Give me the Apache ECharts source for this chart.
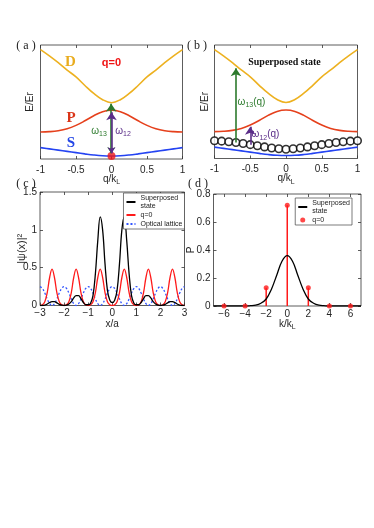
<!DOCTYPE html>
<html>
<head>
<meta charset="utf-8">
<script src="https://cdn.jsdelivr.net/npm/echarts@6/dist/echarts.min.js"></script>
<style>
html,body{margin:0;padding:0;background:#fff;}
#main{width:374px;height:528px;}
</style>
</head>
<body>
<div id="main"></div>
<script>
// ---- (a)/(b) band structure, E in Er (offset), q in kL
var qBand = [-1,-0.875,-0.75,-0.625,-0.5,-0.375,-0.25,-0.125,0,0.125,0.25,0.375,0.5,0.625,0.75,0.875,1];
var bandD = [9.6,9.05,8.45,7.8,7.2,6.45,5.75,5.2,4.94,5.2,5.75,6.45,7.2,7.8,8.45,9.05,9.6];
var bandP = [2.37,2.4,2.48,2.65,2.95,3.35,3.8,4.15,4.27,4.15,3.8,3.35,2.95,2.65,2.48,2.4,2.37];
var bandS = [1.0,0.89,0.78,0.67,0.56,0.45,0.35,0.28,0.26,0.28,0.35,0.45,0.56,0.67,0.78,0.89,1.0];
var qDots = [-1,-0.9,-0.8,-0.7,-0.6,-0.5,-0.4,-0.3,-0.2,-0.1,0,0.1,0.2,0.3,0.4,0.5,0.6,0.7,0.8,0.9,1];
var superE = [1.57,1.53,1.48,1.41,1.32,1.22,1.12,1.02,0.93,0.86,0.82,0.86,0.93,1.02,1.12,1.22,1.32,1.41,1.48,1.53,1.57];
var q0Point = [0, 0.26];
// arrows: [q, from, to]
var arrowA13 = [-0.004, 0.5, 4.85];
var arrowA12 = [0, 0.5, 4.1];
var arrowB13 = [-0.7, 1.41, 7.95];
var arrowB12 = [-0.5, 1.22, 2.8];

// ---- (c) density in real space
var xs = [-3,-2.9,-2.8,-2.7,-2.6,-2.5,-2.4,-2.3,-2.2,-2.1,-2,-1.9,-1.8,-1.7,-1.6,-1.5,-1.4,-1.3,-1.2,-1.1,
  -1,-0.9,-0.8,-0.7,-0.6,-0.5,-0.4,-0.3,-0.2,-0.1,0,0.1,0.2,0.3,0.4,0.5,0.6,0.7,0.8,0.9,
  1,1.1,1.2,1.3,1.4,1.5,1.6,1.7,1.8,1.9,2,2.1,2.2,2.3,2.4,2.5,2.6,2.7,2.8,2.9,3];
var densSuper = [0,0,0.005,0.02,0.04,0.05,0.05,0.035,0.015,0.005,
  0,0.005,0.02,0.05,0.1,0.13,0.13,0.09,0.04,0.01,
  0.01,0.03,0.13,0.42,0.86,1.17,1.0,0.55,0.2,0.07,
  0.04,
  0.07,0.2,0.55,1.0,1.17,0.86,0.42,0.13,0.03,0.01,
  0.01,0.04,0.09,0.13,0.13,0.1,0.05,0.02,0.005,0,
  0.005,0.015,0.035,0.05,0.05,0.04,0.02,0.005,0,0];
var densQ0 = [0,0.01,0.05,0.17,0.37,0.48,0.37,0.17,0.05,0.01,
  0,0.01,0.05,0.17,0.37,0.48,0.37,0.17,0.05,0.01,
  0,0.01,0.05,0.17,0.37,0.48,0.37,0.17,0.05,0.01,
  0,0.01,0.05,0.17,0.37,0.48,0.37,0.17,0.05,0.01,
  0,0.01,0.05,0.17,0.37,0.48,0.37,0.17,0.05,0.01,
  0,0.01,0.05,0.17,0.37,0.48,0.37,0.17,0.05,0.01,
  0];
var lattice = [0.25,0.226,0.164,0.086,0.024,0,0.024,0.086,0.164,0.226,
  0.25,0.226,0.164,0.086,0.024,0,0.024,0.086,0.164,0.226,
  0.25,0.226,0.164,0.086,0.024,0,0.024,0.086,0.164,0.226,
  0.25,0.226,0.164,0.086,0.024,0,0.024,0.086,0.164,0.226,
  0.25,0.226,0.164,0.086,0.024,0,0.024,0.086,0.164,0.226,
  0.25,0.226,0.164,0.086,0.024,0,0.024,0.086,0.164,0.226,
  0.25];

// ---- (d) momentum distribution
var ks = [-7,-6.5,-6,-5.5,-5,-4.5,-4,-3.5,-3,-2.5,-2,-1.5,-1,-0.5,0,0.5,1,1.5,2,2.5,3,3.5,4,4.5,5,5.5,6,6.5,7];
var momSuper = [0,0,0,0,0,0,0,0.002,0.006,0.02,0.05,0.12,0.22,0.32,0.36,0.32,0.22,0.12,0.05,0.02,0.006,0.002,0,0,0,0,0,0,0];
var stemK = [-6,-4,-2,0,2,4,6];
var stemP = [0,0,0.13,0.72,0.13,0,0];

var tickK = [-6,-4,-2,0,2,4,6];
var legendText = {
  supC: 'Superposed\nstate', q0C: 'q=0', latC: 'Optical lattice',
  supD: 'Superposed\nstate', q0D: 'q=0'
};

var SANS = '"Liberation Sans", Arial, sans-serif';
var SERIF = '"Liberation Serif", "Times New Roman", serif';
var cD = '#EDB120', cP = '#E5401C', cS = '#2443F2';
var cGreen = '#2C7A2C', cPurple = '#5A2C88';

function zip(a, b) {
  var out = [];
  for (var i = 0; i < a.length; i++) out.push([a[i], b[i]]);
  return out;
}
function minus(v) { return String(v).replace('-', '\u2212'); }

function mkAxis(grid, pos, min, max, interval, o) {
  o = o || {};
  var ax = {
    type: 'value', gridIndex: grid, position: pos, min: min, max: max,
    axisLine: {show: false, onZero: false}, splitLine: {show: false},
    axisTick: {show: o.ticks !== false, inside: true, length: 3, lineStyle: {color: '#333', width: 0.8}},
    axisLabel: {show: !!o.labels, color: '#262626', fontSize: 10, fontFamily: SANS, margin: o.margin || 4}
  };
  if (interval) ax.interval = interval;
  if (o.formatter) ax.axisLabel.formatter = o.formatter;
  if (o.custom) {
    ax.axisTick.customValues = o.custom;
    ax.axisLabel.customValues = o.custom;
  }
  if (o.name) {
    ax.name = o.name;
    ax.nameLocation = 'middle';
    ax.nameGap = o.nameGap;
    ax.nameMoveOverlap = false;
    if (pos === 'left') ax.nameRotate = 90;
    ax.nameTextStyle = {color: '#262626', fontSize: o.nameSize || 10, fontFamily: SANS,
      rich: {a: {fontSize: 10, fontFamily: SANS, color: '#262626', verticalAlign: 'top', lineHeight: 12},
             b: {fontSize: 7, fontFamily: SANS, color: '#262626', verticalAlign: 'bottom', lineHeight: 8, padding: [6, 0, 0, 0]}}};
  }
  return ax;
}

var qName = '{a|q/k}{b|L}';
var grids = [
  {left: 40.5, top: 45, width: 142, height: 114},
  {left: 214.5, top: 45, width: 143, height: 113.5},
  {left: 40, top: 192, width: 144.5, height: 113.5},
  {left: 213.5, top: 194, width: 147.5, height: 112}
];
grids.forEach(function (g) {
  g.show = true; g.borderColor = '#333'; g.borderWidth = 0.8; g.backgroundColor = 'transparent';
});

var xAxes = [
  mkAxis(0, 'bottom', -1, 1, 0.5, {labels: true, margin: 6, name: qName, nameGap: 15}),
  mkAxis(0, 'top', -1, 1, 0.5),
  mkAxis(1, 'bottom', -1, 1, 0.5, {labels: true, margin: 6, name: qName, nameGap: 15}),
  mkAxis(1, 'top', -1, 1, 0.5),
  mkAxis(2, 'bottom', -3, 3, 1, {labels: true, margin: 3, formatter: minus, name: 'x/a', nameGap: 14}),
  mkAxis(2, 'top', -3, 3, 1),
  mkAxis(3, 'bottom', -7, 7, null, {labels: true, margin: 3, formatter: minus, custom: tickK, name: '{a|k/k}{b|L}', nameGap: 13}),
  mkAxis(3, 'top', -7, 7, null, {custom: tickK})
];
var yAxes = [
  mkAxis(0, 'left', 0, 10, null, {ticks: false, name: 'E/Er', nameGap: 5}),
  mkAxis(0, 'right', 0, 10, null, {ticks: false}),
  mkAxis(1, 'left', 0, 10, null, {ticks: false, name: 'E/Er', nameGap: 4}),
  mkAxis(1, 'right', 0, 10, null, {ticks: false}),
  mkAxis(2, 'left', 0, 1.5, 0.5, {labels: true, margin: 3, name: '|\u03c8(x)|\u00b2', nameGap: 13, nameSize: 11}),
  mkAxis(2, 'right', 0, 1.5, 0.5),
  mkAxis(3, 'left', 0, 0.8, 0.2, {labels: true, margin: 3, name: 'P', nameGap: 17}),
  mkAxis(3, 'right', 0, 0.8, 0.2)
];

function band(idx, name, ys, color) {
  return {type: 'line', name: name, xAxisIndex: 2 * idx, yAxisIndex: 2 * idx, data: zip(qBand, ys),
    smooth: 0.4, symbol: 'none', lineStyle: {color: color, width: 1.6}, silent: true};
}
function arrow(idx, a, color, both) {
  return {type: 'lines', coordinateSystem: 'cartesian2d', xAxisIndex: 2 * idx, yAxisIndex: 2 * idx,
    symbol: both ? ['arrow', 'arrow'] : ['none', 'arrow'], symbolSize: [6, 8], silent: true, z: 5,
    lineStyle: {color: color, width: 1.6, opacity: 1},
    data: [{coords: [[a[0], a[1]], [a[0], a[2]]]}]};
}

var series = [
  band(0, 'Da', bandD, cD), band(0, 'Pa', bandP, cP), band(0, 'Sa', bandS, cS),
  {type: 'scatter', xAxisIndex: 0, yAxisIndex: 0, data: [q0Point], symbolSize: 8, itemStyle: {color: '#F01818'}, silent: true, z: 3},
  arrow(0, arrowA13, cGreen, true),
  arrow(0, arrowA12, cPurple, true),

  band(1, 'Db', bandD, cD), band(1, 'Pb', bandP, cP), band(1, 'Sb', bandS, cS),
  {type: 'scatter', xAxisIndex: 2, yAxisIndex: 2, data: zip(qDots, superE), symbol: 'circle', symbolSize: 7.5,
    itemStyle: {color: '#fff', borderColor: '#000', borderWidth: 1.6}, silent: true, z: 3},
  arrow(1, arrowB13, cGreen, false),
  arrow(1, arrowB12, cPurple, false),

  {type: 'line', name: 'latC', xAxisIndex: 4, yAxisIndex: 4, data: zip(xs, lattice), smooth: 0.4, symbol: 'none',
    lineStyle: {color: '#3355FF', width: 1.3, type: [2, 2]}, itemStyle: {color: '#3355FF'}, silent: true},
  {type: 'line', name: 'q0C', xAxisIndex: 4, yAxisIndex: 4, data: zip(xs, densQ0), smooth: 0.4, symbol: 'none',
    lineStyle: {color: '#FF1A1A', width: 1.3}, itemStyle: {color: '#FF1A1A'}, silent: true},
  {type: 'line', name: 'supC', xAxisIndex: 4, yAxisIndex: 4, data: zip(xs, densSuper), smooth: 0.4, symbol: 'none',
    lineStyle: {color: '#000', width: 1.3}, itemStyle: {color: '#000'}, silent: true},

  {type: 'line', name: 'supD', xAxisIndex: 6, yAxisIndex: 6, data: zip(ks, momSuper), smooth: 0.4, symbol: 'none',
    lineStyle: {color: '#000', width: 1.3}, itemStyle: {color: '#000'}, silent: true},
  {type: 'bar', name: 'stem', xAxisIndex: 6, yAxisIndex: 6, data: zip(stemK, stemP), barWidth: 1.5,
    itemStyle: {color: '#FF1A1A'}, silent: true},
  {type: 'scatter', name: 'q0D', xAxisIndex: 6, yAxisIndex: 6, data: zip(stemK, stemP), symbolSize: 5,
    itemStyle: {color: '#FF1A1A'}, silent: true, z: 3}
];

var hideDot = {opacity: 0};
var legendBase = {
  orient: 'vertical', itemWidth: 9, itemHeight: 5, itemGap: 1, padding: [1, 2, 1, 2],
  borderColor: '#444', borderWidth: 0.7, backgroundColor: '#fff', borderRadius: 0,
  selectedMode: false,
  textStyle: {fontSize: 7, fontFamily: SANS, color: '#222', lineHeight: 8},
  formatter: function (n) { return legendText[n]; }
};
var legends = [
  Object.assign({}, legendBase, {right: 189.5, top: 193,
    data: [{name: 'supC', itemStyle: hideDot}, {name: 'q0C', itemStyle: hideDot}, {name: 'latC', itemStyle: hideDot}]}),
  Object.assign({}, legendBase, {right: 22, top: 198,
    data: [{name: 'supD', itemStyle: hideDot}, {name: 'q0D'}]})
];

function txt(x, y, text, fill, font, rich) {
  var s = {text: text, fill: fill, font: font, align: 'center', verticalAlign: 'middle'};
  if (rich) s.rich = rich;
  return {type: 'text', x: x, y: y, silent: true, z: 100, style: s};
}
function omegaRich(color) {
  return {
    w: {fontSize: 10, fontFamily: SANS, fill: color, color: color, verticalAlign: 'top', lineHeight: 12},
    s: {fontSize: 7, fontFamily: SANS, fill: color, color: color, verticalAlign: 'bottom', lineHeight: 8, padding: [7, 0, 0, 0]}
  };
}

var graphics = [
  txt(26, 46, '( a )', '#222', '12px ' + SERIF),
  txt(197, 46, '( b )', '#222', '12px ' + SERIF),
  txt(26, 184, '( c )', '#222', '12px ' + SERIF),
  txt(198, 184, '( d )', '#222', '12px ' + SERIF),
  txt(70.5, 62, 'D', '#E9AC1E', 'bold 15px ' + SERIF),
  txt(71, 118.5, 'P', '#DA3418', 'bold 15px ' + SERIF),
  txt(71, 143, 'S', '#2446E6', 'bold 15px ' + SERIF),
  txt(111.5, 63, 'q=0', '#F01414', 'bold 11px ' + SANS),
  txt(99, 132, '{w|\u03c9}{s|13}', cGreen, '10px ' + SANS, omegaRich(cGreen)),
  txt(123, 132, '{w|\u03c9}{s|12}', cPurple, '10px ' + SANS, omegaRich(cPurple)),
  txt(284.5, 62.5, 'Superposed state', '#111', 'bold 10px ' + SERIF),
  txt(251.5, 103, '{w|\u03c9}{s|13}{w|(q)}', cGreen, '10px ' + SANS, omegaRich(cGreen)),
  txt(265.5, 135.5, '{w|\u03c9}{s|12}{w|(q)}', cPurple, '10px ' + SANS, omegaRich(cPurple))
];

var chart = echarts.init(document.getElementById('main'), null, {renderer: 'canvas'});
chart.setOption({
  animation: false,
  backgroundColor: '#fff',
  grid: grids,
  xAxis: xAxes,
  yAxis: yAxes,
  legend: legends,
  series: series,
  graphic: graphics
});
</script>
</body>
</html>
